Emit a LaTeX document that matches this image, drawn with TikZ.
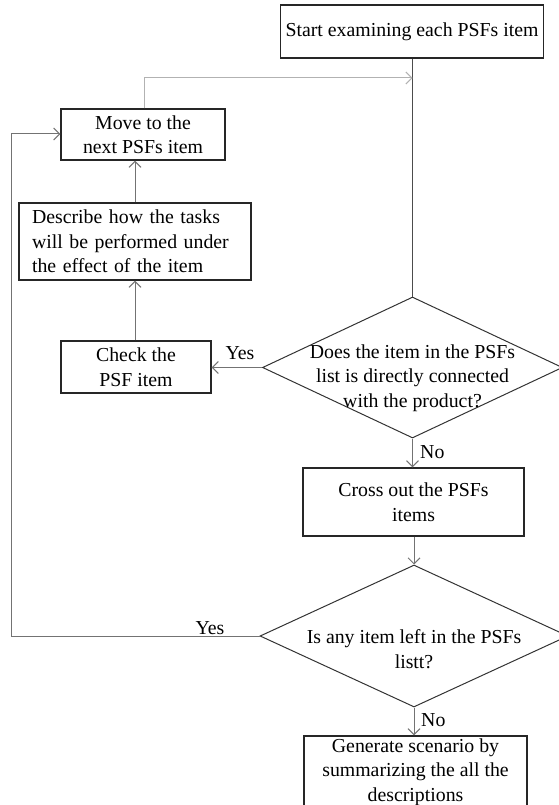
\documentclass[tikz,border=0pt]{standalone}
\usepackage{fontspec}
\setmainfont{Liberation Serif}
\usetikzlibrary{arrows.meta,shapes.geometric}

\tikzset{
  x=1pt, y=-1pt,
  every node/.style={font=\fontsize{19.8}{24.5}\selectfont},
  procbox/.style={draw=black!85, line width=1.3pt, rectangle, inner sep=0pt, align=center},
  decision/.style={draw=black!80, line width=1pt, diamond, inner sep=0pt},
  flow/.style={draw=black!55, line width=1pt, -{Straight Barb[length=6pt,width=12pt]}},
  lightflow/.style={flow, draw=black!30},
  plainline/.style={draw=black!70, line width=1.1pt},
  answer/.style={inner sep=1pt}
}

\begin{document}
\begin{tikzpicture}
\useasboundingbox (0,0) rectangle (558,805);

% process boxes
\node[procbox, minimum width=263pt, minimum height=53pt] (start) at (412,31.5)
  {Start examining each PSFs item};
\node[procbox, minimum width=164pt, minimum height=51pt] (move) at (143,134.5)
  {Move to the\\next PSFs item};
\node[procbox, text width=206pt, inner xsep=13pt, minimum height=77pt, align=left] (describe) at (135,241.5)
  {Describe how the tasks\\will be performed under\\the effect of the item};
\node[procbox, minimum width=150pt, minimum height=52pt] (check) at (136,367)
  {Check the\\PSF item};
\node[procbox, minimum width=221pt, minimum height=68pt] (cross) at (413.5,502)
  {Cross out the PSFs\\items};
\node[procbox, minimum width=223pt, minimum height=72pt] (generate) at (415.5,772)
  {Generate scenario by\\summarizing the all the\\descriptions};

% decisions
\node[decision, minimum width=300pt, minimum height=141pt,
  label={[align=center, yshift=-10.5pt]center:Does the item in the PSFs\\list is directly connected\\with the product?}]
  (q1) at (412.5,367.5) {};
\node[decision, minimum width=308pt, minimum height=142pt,
  label={[align=center, yshift=-13pt]center:Is any item left in the PSFs\\listt?}]
  (q2) at (414,636) {};

% connectors
\coordinate (turnA) at (144,78);
\coordinate (turnB) at (412.5,78);
\coordinate (loopL) at (11,636);
\coordinate (loopT) at (11,134);

\draw[plainline] (start.south -| q1.north) -- (q1.north);
\draw[lightflow] (move.north -| turnA) -- (turnA) -- (turnB);
\draw[flow] (describe.north) -- (move.south -| describe.north);
\draw[flow] (check.north -| describe.north) -- (describe.south);
\draw[flow] (q1.west) -- (check.east |- q1.west);
\node[answer] (yes1) at (240,353) {Yes};
\draw[flow] (q1.south) -- (cross.north -| q1.south);
\node[answer, anchor=west] (no1) at (419,452) {No};
\draw[flow] (cross.south -| q2.north) -- (q2.north);
\draw[flow] (q2.west) -- (loopL) -- (loopT) -- (move.west |- loopT);
\node[answer] (yes2) at (210,628) {Yes};
\draw[flow] (q2.south) -- (generate.north -| q2.south);
\node[answer, anchor=west] (no2) at (420,720) {No};
\end{tikzpicture}
\end{document}
